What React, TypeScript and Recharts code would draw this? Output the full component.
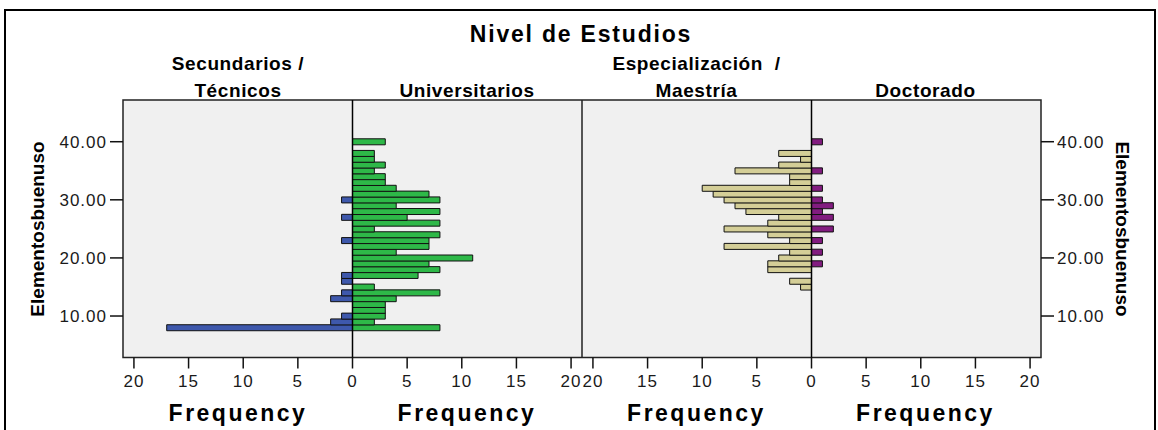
import React from 'react';
import {
  BarChart,
  Bar,
  XAxis,
  YAxis,
  CartesianGrid,
  ReferenceArea,
  ReferenceLine,
} from 'recharts';

// Bin centres of "Elementosbuenuso" (width-1 bins)
const bins = [8, 9, 10, 11, 12, 13, 14, 15, 16, 17, 18, 19, 20, 21, 22, 23, 24, 25, 26, 27, 28, 29, 30, 31, 32, 33, 34, 35, 36, 37, 38, 39, 40];

// Frequencies per education level, aligned with bins
const secundarios = [17, 2, 1, 0, 0, 2, 1, 0, 1, 1, 0, 0, 0, 0, 0, 1, 0, 0, 0, 1, 0, 0, 1, 0, 0, 0, 0, 0, 0, 0, 0, 0, 0];
const universitarios = [8, 2, 3, 3, 3, 4, 8, 2, 0, 6, 8, 7, 11, 4, 7, 7, 8, 2, 8, 5, 8, 4, 8, 7, 4, 3, 3, 2, 3, 2, 2, 0, 3];
const especializacion = [0, 0, 0, 0, 0, 0, 0, 1, 2, 0, 4, 4, 3, 2, 8, 2, 4, 8, 4, 3, 6, 7, 8, 9, 10, 2, 2, 7, 3, 1, 3, 0, 0];
const doctorado = [0, 0, 0, 0, 0, 0, 0, 0, 0, 0, 0, 1, 0, 1, 0, 1, 0, 2, 0, 2, 1, 2, 1, 0, 1, 0, 0, 1, 0, 0, 0, 0, 1];

const freqTicks = [-20, -15, -10, -5, 0, 5, 10, 15, 20];
const valueTicks = [10, 20, 30, 40];

const X_DOMAIN: [number, number] = [-21, 21];
const Y_DOMAIN: [number, number] = [2.86, 47.18];

const FONT = '"Liberation Sans", Arial, Helvetica, sans-serif';

const COLORS = {
  sec: '#3e58ac',
  uni: '#2eb848',
  esp: '#d4ce97',
  doc: '#821c80',
};

// Left bars are stored as negative values so they grow leftwards from 0
const leftPanel = bins.map((v, i) => ({ v, sec: -secundarios[i], uni: universitarios[i] }));
const rightPanel = bins.map((v, i) => ({ v, esp: -especializacion[i], doc: doctorado[i] }));

const tickStyle = { fontSize: 17, fill: '#1a1a1a', fontFamily: FONT, letterSpacing: 1 };
const absFmt = (n: number) => String(Math.abs(n));
const valFmt = (n: number) => n.toFixed(2);

const PLOT_TOP = 100;
const CHART_H = 430;
const X_AXIS_H = 72.5;

function Panel({
  data,
  leftKey,
  rightKey,
  leftColor,
  rightColor,
  side,
  width,
  axisWidth,
}: {
  data: any[];
  leftKey: string;
  rightKey: string;
  leftColor: string;
  rightColor: string;
  side: 'left' | 'right';
  width: number;
  axisWidth: number;
}) {
  return (
    <BarChart
      width={width}
      height={CHART_H}
      data={data}
      layout="vertical"
      stackOffset="sign"
      barCategoryGap={0}
      margin={{ top: PLOT_TOP, right: 0, bottom: 0, left: 0 }}
    >
      <CartesianGrid fill="#f0f0f0" horizontal={false} vertical={false} />
      <XAxis
        type="number"
        domain={X_DOMAIN}
        ticks={freqTicks}
        tickFormatter={absFmt}
        allowDataOverflow
        height={X_AXIS_H}
        axisLine={false}
        tickSize={11}
        tickMargin={6}
        tickLine={{ stroke: '#111', strokeWidth: 1.5 }}
        tick={tickStyle}
        interval={0}
      />
      <YAxis
        type="number"
        dataKey="v"
        orientation={side}
        domain={Y_DOMAIN}
        ticks={valueTicks}
        tickFormatter={valFmt}
        allowDataOverflow
        reversed
        width={axisWidth}
        axisLine={false}
        tickSize={13}
        tickMargin={3}
        tickLine={{ stroke: '#111', strokeWidth: 1.5 }}
        tick={tickStyle}
        interval={0}
      />
      <Bar dataKey={leftKey} stackId="s" fill={leftColor} stroke="#111" strokeWidth={1} isAnimationActive={false} />
      <Bar dataKey={rightKey} stackId="s" fill={rightColor} stroke="#111" strokeWidth={1} isAnimationActive={false} />
      <ReferenceLine x={0} stroke="#000" strokeWidth={1.5} />
      <ReferenceArea
        x1={X_DOMAIN[0]}
        x2={X_DOMAIN[1]}
        y1={Y_DOMAIN[0]}
        y2={Y_DOMAIN[1]}
        fill="none"
        stroke="#222"
        strokeWidth={1.5}
      />
    </BarChart>
  );
}

export default function App() {
  const bold = { fontFamily: FONT, fontWeight: 700, fill: '#000' } as const;
  const freqCentres = [238, 467, 696.5, 925.5];
  return (
    <div style={{ position: 'absolute', left: 0, top: 0, width: 1158, height: 430, background: '#fff', overflow: 'hidden' }}>
      <svg width={1158} height={430} style={{ position: 'absolute', left: 0, top: 0 }}>
        <rect x={5} y={10} width={1150} height={440} fill="none" stroke="#000" strokeWidth={2} />
        <text x={581} y={42} textAnchor="middle" fontSize={23} letterSpacing={1.8} {...bold}>
          Nivel de Estudios
        </text>
        <text x={238} y={70} textAnchor="middle" fontSize={19} letterSpacing={0.6} {...bold}>
          Secundarios /
        </text>
        <text x={238} y={97} textAnchor="middle" fontSize={19} letterSpacing={0.6} {...bold}>
          Técnicos
        </text>
        <text x={467} y={97} textAnchor="middle" fontSize={19} letterSpacing={0.6} {...bold}>
          Universitarios
        </text>
        <text x={696.5} y={70} textAnchor="middle" fontSize={19} letterSpacing={0.6} {...bold} style={{ whiteSpace: 'pre' }}>
          Especialización  /
        </text>
        <text x={696.5} y={97} textAnchor="middle" fontSize={19} letterSpacing={0.6} {...bold}>
          Maestría
        </text>
        <text x={925.5} y={97} textAnchor="middle" fontSize={19} letterSpacing={0.6} {...bold}>
          Doctorado
        </text>
        {freqCentres.map((cx, i) => (
          <text key={i} x={cx} y={421} textAnchor="middle" fontSize={23} letterSpacing={2.5} {...bold}>
            Frequency
          </text>
        ))}
        <text x={44} y={229} textAnchor="middle" fontSize={19} transform="rotate(-90 44 229)" {...bold}>
          Elementosbuenuso
        </text>
        <text x={1116} y={229} textAnchor="middle" fontSize={19} transform="rotate(90 1116 229)" {...bold}>
          Elementosbuenuso
        </text>
      </svg>
      <div style={{ position: 'absolute', left: 0, top: 0 }}>
        <Panel
          data={leftPanel}
          leftKey="sec"
          rightKey="uni"
          leftColor={COLORS.sec}
          rightColor={COLORS.uni}
          side="left"
          width={582}
          axisWidth={123}
        />
      </div>
      <div style={{ position: 'absolute', left: 582, top: 0 }}>
        <Panel
          data={rightPanel}
          leftKey="esp"
          rightKey="doc"
          leftColor={COLORS.esp}
          rightColor={COLORS.doc}
          side="right"
          width={576}
          axisWidth={117}
        />
      </div>
    </div>
  );
}
